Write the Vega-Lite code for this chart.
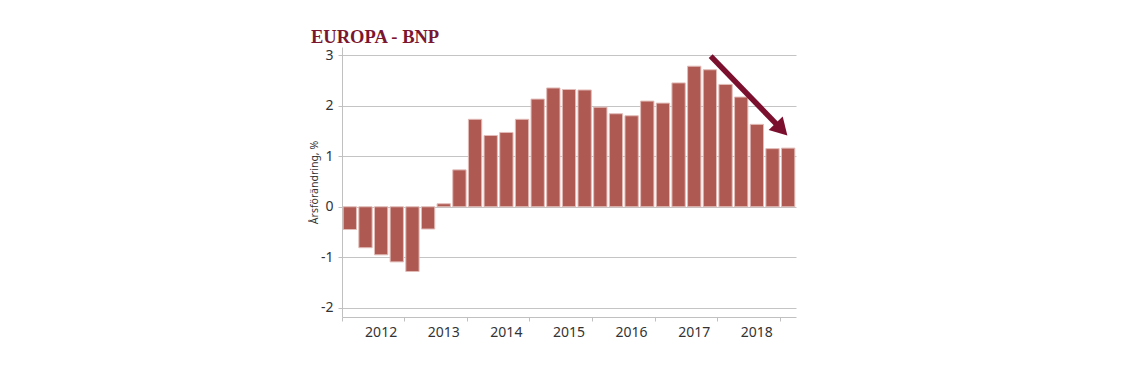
{
  "$schema": "https://vega.github.io/schema/vega-lite/v6.json",
  "width": 454,
  "height": 270,
  "autosize": {"type": "none"},
  "padding": {"left": 342, "top": 47, "right": 331, "bottom": 55},
  "background": "white",
  "config": {
    "view": {"stroke": null},
    "font": "Noto Sans"
  },
  "title": {
    "text": "EUROPA - BNP",
    "font": "Liberation Serif",
    "fontSize": 18.5,
    "fontWeight": "bold",
    "color": "#7b1631",
    "anchor": "start",
    "frame": "group",
    "dx": -31,
    "dy": 17,
    "baseline": "alphabetic",
    "offset": 3
  },
  "datasets": {
    "gdp": [
      {"q": "2012 Q1", "v": -0.45},
      {"q": "2012 Q2", "v": -0.81},
      {"q": "2012 Q3", "v": -0.95},
      {"q": "2012 Q4", "v": -1.09},
      {"q": "2013 Q1", "v": -1.28},
      {"q": "2013 Q2", "v": -0.44},
      {"q": "2013 Q3", "v": 0.06},
      {"q": "2013 Q4", "v": 0.73},
      {"q": "2014 Q1", "v": 1.73},
      {"q": "2014 Q2", "v": 1.41},
      {"q": "2014 Q3", "v": 1.47},
      {"q": "2014 Q4", "v": 1.73},
      {"q": "2015 Q1", "v": 2.13},
      {"q": "2015 Q2", "v": 2.35},
      {"q": "2015 Q3", "v": 2.32},
      {"q": "2015 Q4", "v": 2.31},
      {"q": "2016 Q1", "v": 1.97},
      {"q": "2016 Q2", "v": 1.84},
      {"q": "2016 Q3", "v": 1.80},
      {"q": "2016 Q4", "v": 2.09},
      {"q": "2017 Q1", "v": 2.05},
      {"q": "2017 Q2", "v": 2.45},
      {"q": "2017 Q3", "v": 2.78},
      {"q": "2017 Q4", "v": 2.71},
      {"q": "2018 Q1", "v": 2.42},
      {"q": "2018 Q2", "v": 2.17},
      {"q": "2018 Q3", "v": 1.63},
      {"q": "2018 Q4", "v": 1.15},
      {"q": "2019 Q1", "v": 1.16}
    ],
    "arrow": [
      {"q1": "2017 Q4", "v1": 2.98, "q2": "2019 Q1", "v2": 1.53}
    ]
  },
  "layer": [
    {
      "data": {"name": "gdp"},
      "mark": {"type": "bar", "fill": "#ae5a53", "stroke": "#e2bcb8", "strokeWidth": 1},
      "encoding": {
        "x": {
          "field": "q",
          "type": "ordinal",
          "sort": null,
          "scale": {"paddingInner": 0.15, "paddingOuter": 0.075},
          "axis": {
            "title": null,
            "values": ["2012 Q1", "2013 Q1", "2014 Q1", "2015 Q1", "2016 Q1", "2017 Q1", "2018 Q1", "2019 Q1"],
            "bandPosition": -0.088,
            "labelExpr": "substring(datum.value, 0, 4) == '2019' ? '' : substring(datum.value, 0, 4)",
            "labelOffset": 31.3,
            "labelAngle": 0,
            "labelFontSize": 14,
            "labelColor": "#333333",
            "labelPadding": 4,
            "tickSize": 4,
            "tickColor": "#c0c0c0",
            "domainColor": "#c0c0c0",
            "grid": false
          }
        },
        "y": {
          "field": "v",
          "type": "quantitative",
          "scale": {"domain": [-2.18, 3.16], "nice": false, "zero": false},
          "axis": {
            "title": "Årsförändring, %",
            "titleFontSize": 10.5,
            "titleFontWeight": "normal",
            "titleColor": "#333333",
            "titlePadding": 1,
            "values": [-2, -1, 0, 1, 2, 3],
            "labelExpr": "'' + datum.value",
            "labelFontSize": 14,
            "labelColor": "#333333",
            "labelPadding": 5,
            "tickSize": 4,
            "tickColor": "#c0c0c0",
            "domainColor": "#c0c0c0",
            "gridColor": "#c4c4c4",
            "grid": true
          }
        }
      }
    },
    {
      "data": {"name": "arrow"},
      "mark": {"type": "rule", "color": "#7a0f2e", "strokeWidth": 5.5},
      "encoding": {
        "x": {"field": "q1", "type": "ordinal", "bandPosition": 0.56},
        "x2": {"field": "q2", "bandPosition": 0},
        "y": {"field": "v1", "type": "quantitative"},
        "y2": {"field": "v2"}
      }
    },
    {
      "data": {"name": "arrow"},
      "mark": {"type": "point", "shape": "triangle-up", "filled": true, "color": "#7a0f2e", "opacity": 1, "size": 380, "angle": 136.2},
      "encoding": {
        "x": {"field": "q2", "type": "ordinal", "bandPosition": 0},
        "y": {"field": "v2", "type": "quantitative"}
      }
    }
  ]
}
